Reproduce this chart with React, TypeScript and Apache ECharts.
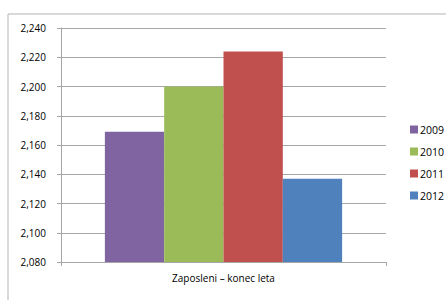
import React, { useEffect, useRef } from "react";
import * as echarts from "echarts";

const categories = ["Zaposleni – konec leta"];
const seriesNames = ["2009", "2010", "2011", "2012"];
const seriesValues = [[2169], [2200], [2224], [2137]];
const seriesColors = ["#8064A2", "#9BBB59", "#C0504D", "#4F81BD"];
const yMin = 2080;
const yMax = 2240;
const yInterval = 20;

const FONT = "'Open Sans', 'Noto Sans', sans-serif";

export default function App() {
  const ref = useRef<HTMLDivElement>(null);
  useEffect(() => {
    document.body.style.margin = "0";
    const chart = echarts.init(ref.current!, null, { renderer: "svg" });
    chart.setOption({
      animation: false,
      backgroundColor: "#ffffff",
      textStyle: { fontFamily: FONT },
      graphic: [
        {
          type: "rect",
          shape: { x: 8, y: 14, width: 460, height: 320 },
          style: { fill: "none", stroke: "#b3b3b3", lineWidth: 1 },
          silent: true,
          z: -1,
        },
      ],
      grid: { left: 61, top: 28, right: 60, bottom: 38 },
      legend: {
        orient: "vertical",
        left: 405,
        top: 119,
        itemWidth: 8,
        itemHeight: 8,
        itemGap: 11,
        icon: "rect",
        textStyle: { fontFamily: FONT, fontSize: 10.5, color: "#000", padding: [0, 0, 0, -3] },
        data: seriesNames,
      },
      xAxis: {
        type: "category",
        data: categories,
        axisLine: { lineStyle: { color: "#a6a6a6" } },
        axisTick: { show: true, length: 4, lineStyle: { color: "#a6a6a6" } },
        axisLabel: { fontFamily: FONT, fontSize: 10, color: "#000", margin: 11 },
      },
      yAxis: {
        type: "value",
        min: yMin,
        max: yMax,
        interval: yInterval,
        axisLine: { show: true, lineStyle: { color: "#a6a6a6" } },
        axisTick: { show: true, length: 4, lineStyle: { color: "#a6a6a6" } },
        splitLine: { lineStyle: { color: "#a6a6a6" } },
        axisLabel: {
          fontFamily: FONT,
          fontSize: 10,
          color: "#000",
          margin: 15,
          formatter: (v: number) => v.toLocaleString("en-US"),
        },
      },
      series: seriesNames.map((name, i) => ({
        name,
        type: "bar",
        data: seriesValues[i],
        barGap: "0%",
        barCategoryGap: "27%",
        itemStyle: { color: seriesColors[i] },
      })),
    });
    return () => chart.dispose();
  }, []);
  return <div ref={ref} style={{ width: 446, height: 300 }} />;
}
